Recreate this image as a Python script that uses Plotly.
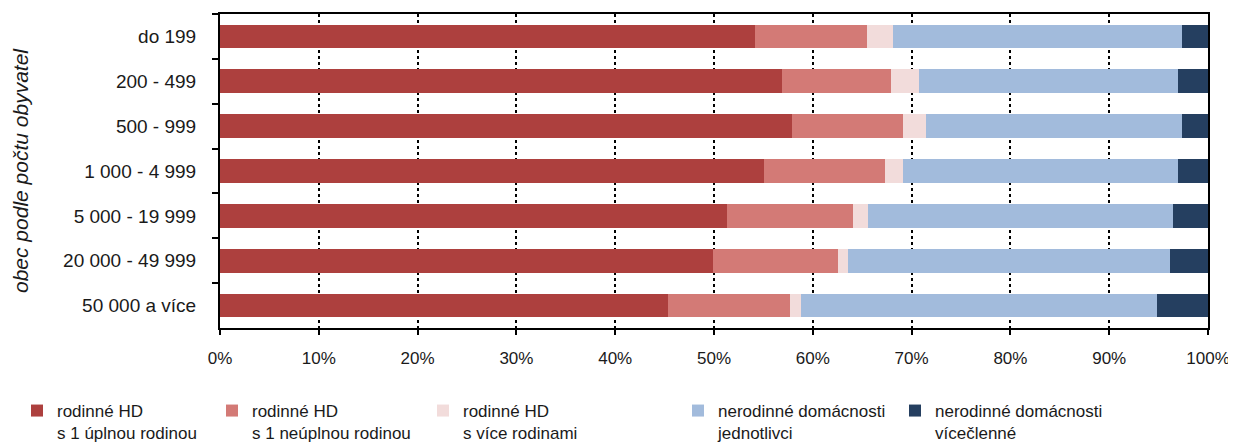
import plotly.graph_objects as go

categories = ["do 199", "200 - 499", "500 - 999", "1 000 - 4 999", "5 000 - 19 999", "20 000 - 49 999", "50 000 a více"]

series_names = [
    "rodinné HD<br>s 1 úplnou rodinou",
    "rodinné HD<br>s 1 neúplnou rodinou",
    "rodinné HD<br>s více rodinami",
    "nerodinné domácnosti<br>jednotlivci",
    "nerodinné domácnosti<br>vícečlenné",
]

uplna = [54.1, 56.9, 57.9, 55.1, 51.3, 49.9, 45.3]
neuplna = [11.4, 11.0, 11.2, 12.2, 12.8, 12.6, 12.4]
vice_rodin = [2.6, 2.8, 2.4, 1.8, 1.5, 1.1, 1.1]
jednotlivci = [29.3, 26.3, 25.9, 27.9, 30.9, 32.6, 36.0]
vicecl = [2.6, 3.0, 2.6, 3.0, 3.5, 3.8, 5.2]

tick_vals = [0, 10, 20, 30, 40, 50, 60, 70, 80, 90, 100]
tick_text = ["0%", "10%", "20%", "30%", "40%", "50%", "60%", "70%", "80%", "90%", "100%"]

colors = ["#AD403E", "#D37A76", "#F2DCDB", "#A2BBDC", "#253F60"]
series = [uplna, neuplna, vice_rodin, jednotlivci, vicecl]
legend_left_px = [9, 204, 415, 670, 887]

# page has an 8px body margin; figure sized to fit the window
W, H = 1228, 435
FONT = "Liberation Sans, Arial, sans-serif"
TXT = "#1a1a1a"

fig = go.Figure()
for i, (name, vals, col) in enumerate(zip(series_names, series, colors)):
    lg = "legend" if i == 0 else f"legend{i+1}"
    fig.add_trace(go.Bar(
        y=categories, x=vals, name=name, orientation="h",
        marker=dict(color=col, line=dict(width=0)),
        legend=lg, showlegend=True,
    ))

layout_legends = {}
for i, lx in enumerate(legend_left_px):
    key = "legend" if i == 0 else f"legend{i+1}"
    layout_legends[key] = dict(
        xref="container", yref="container",
        x=lx / W, y=1 - 385 / H, xanchor="left", yanchor="top",
        font=dict(family=FONT, size=17, color=TXT),
        bgcolor="rgba(0,0,0,0)", itemwidth=30, valign="top",
        tracegroupgap=0, visible=True,
    )

fig.update_layout(
    barmode="stack",
    bargap=0.47,
    showlegend=True,
    width=W, height=H,
    margin=dict(l=212, r=28, t=6, b=115, autoexpand=False),
    plot_bgcolor="white", paper_bgcolor="white",
    font=dict(family=FONT, size=17, color=TXT),
    **layout_legends,
)

fig.add_annotation(
    text="<i>obec podle počtu obyvatel</i>",
    xref="paper", yref="paper", x=(20 - 220) / 988, y=0.5,
    xanchor="center", yanchor="middle", textangle=-90, showarrow=False,
    font=dict(family=FONT, size=21, color=TXT),
)

fig.update_xaxes(
    range=[0, 100], tickvals=tick_vals, ticktext=tick_text,
    showgrid=True, gridcolor="black", griddash="dot", gridwidth=1.5,
    showline=True, linecolor="black", linewidth=2, mirror=True,
    ticks="outside", ticklen=5, tickcolor="black", tickwidth=1.5,
    ticklabelstandoff=9,
    tickfont=dict(family=FONT, size=17, color=TXT),
    zeroline=False,
)
fig.update_yaxes(
    categoryorder="array", categoryarray=categories, autorange="reversed",
    showline=True, linecolor="black", linewidth=2, mirror=True,
    ticks="outside", ticklen=6, tickcolor="black", tickwidth=1.5, tickson="boundaries",
    ticklabelstandoff=18,
    tickfont=dict(family=FONT, size=19, color=TXT),
    showgrid=False,
)

fig.write_html("out.html")
